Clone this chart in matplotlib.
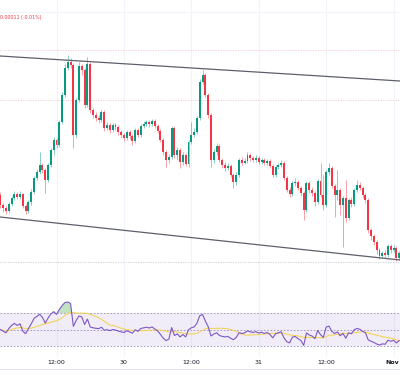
import matplotlib
matplotlib.use("Agg")
import matplotlib.pyplot as plt
import matplotlib.dates as mdates
import numpy as np
import pandas as pd

# 30-minute candles, Oct 29 02:00 -> Nov 1 01:00
start = "2024-10-29 02:00"

open_ = [
    1.08805, 1.08795, 1.08792, 1.08789, 1.08796, 1.08802, 1.08806, 1.08803, 1.08806, 1.08794,
    1.08789, 1.08798, 1.08808, 1.08822, 1.08828, 1.08835, 1.08830, 1.08820, 1.08835, 1.08850,
    1.08860, 1.08855, 1.08878, 1.08905, 1.08932, 1.08938, 1.08935, 1.08865, 1.08900, 1.08934,
    1.08930, 1.08895, 1.08936, 1.08890, 1.08885, 1.08882, 1.08880, 1.08888, 1.08872, 1.08875,
    1.08870, 1.08875, 1.08873, 1.08868, 1.08865, 1.08862, 1.08868, 1.08864, 1.08859, 1.08870,
    1.08865, 1.08874, 1.08876, 1.08878, 1.08876, 1.08879, 1.08874, 1.08869, 1.08860, 1.08848,
    1.08840, 1.08843, 1.08872, 1.08845, 1.08850, 1.08838, 1.08845, 1.08836, 1.08858, 1.08865,
    1.08868, 1.08882, 1.08918, 1.08925, 1.08905, 1.08885, 1.08840, 1.08848, 1.08854, 1.08840,
    1.08835, 1.08832, 1.08834, 1.08825, 1.08818, 1.08825, 1.08840, 1.08837, 1.08839, 1.08845,
    1.08842, 1.08840, 1.08842, 1.08838, 1.08840, 1.08837, 1.08839, 1.08834, 1.08825, 1.08833,
    1.08835, 1.08837, 1.08822, 1.08810, 1.08806, 1.08817, 1.08818, 1.08812, 1.08807, 1.08790,
    1.08817, 1.08810, 1.08807, 1.08798, 1.08819, 1.08805, 1.08795, 1.08828, 1.08832, 1.08814,
    1.08805, 1.08810, 1.08795, 1.08802, 1.08782, 1.08800, 1.08796, 1.08810, 1.08815, 1.08812,
    1.08805, 1.08800, 1.08770, 1.08764, 1.08758, 1.08750, 1.08744, 1.08747, 1.08745, 1.08754,
    1.08750, 1.08752, 1.08742,
]
close = [
    1.08795, 1.08792, 1.08789, 1.08796, 1.08802, 1.08806, 1.08803, 1.08806, 1.08794, 1.08789,
    1.08798, 1.08808, 1.08822, 1.08828, 1.08835, 1.08830, 1.08820, 1.08835, 1.08850, 1.08860,
    1.08855, 1.08878, 1.08905, 1.08932, 1.08938, 1.08935, 1.08865, 1.08900, 1.08934, 1.08930,
    1.08895, 1.08936, 1.08890, 1.08885, 1.08882, 1.08880, 1.08888, 1.08872, 1.08875, 1.08870,
    1.08875, 1.08873, 1.08868, 1.08865, 1.08862, 1.08868, 1.08864, 1.08859, 1.08870, 1.08865,
    1.08874, 1.08876, 1.08878, 1.08876, 1.08879, 1.08874, 1.08869, 1.08860, 1.08848, 1.08840,
    1.08843, 1.08872, 1.08845, 1.08850, 1.08838, 1.08845, 1.08836, 1.08858, 1.08865, 1.08868,
    1.08882, 1.08918, 1.08925, 1.08905, 1.08885, 1.08840, 1.08848, 1.08854, 1.08840, 1.08835,
    1.08832, 1.08834, 1.08825, 1.08818, 1.08825, 1.08840, 1.08837, 1.08839, 1.08845, 1.08842,
    1.08840, 1.08842, 1.08838, 1.08840, 1.08837, 1.08839, 1.08834, 1.08825, 1.08833, 1.08835,
    1.08837, 1.08822, 1.08810, 1.08806, 1.08817, 1.08818, 1.08812, 1.08807, 1.08790, 1.08817,
    1.08810, 1.08807, 1.08798, 1.08819, 1.08805, 1.08795, 1.08828, 1.08832, 1.08814, 1.08805,
    1.08810, 1.08795, 1.08802, 1.08782, 1.08800, 1.08796, 1.08810, 1.08815, 1.08812, 1.08805,
    1.08800, 1.08770, 1.08764, 1.08758, 1.08750, 1.08744, 1.08747, 1.08745, 1.08754, 1.08750,
    1.08752, 1.08742, 1.08747,
]
high = [
    1.08808, 1.08797, 1.08794, 1.08798, 1.08804, 1.08809, 1.08808, 1.08809, 1.08807, 1.08796,
    1.08800, 1.08811, 1.08824, 1.08831, 1.08848, 1.08837, 1.08832, 1.08837, 1.08852, 1.08863,
    1.08862, 1.08880, 1.08908, 1.08936, 1.08945, 1.08942, 1.08937, 1.08902, 1.08938, 1.08936,
    1.08932, 1.08943, 1.08938, 1.08892, 1.08888, 1.08885, 1.08890, 1.08890, 1.08878, 1.08877,
    1.08877, 1.08877, 1.08875, 1.08870, 1.08867, 1.08870, 1.08870, 1.08866, 1.08872, 1.08872,
    1.08876, 1.08879, 1.08880, 1.08880, 1.08881, 1.08881, 1.08876, 1.08871, 1.08862, 1.08850,
    1.08846, 1.08874, 1.08874, 1.08853, 1.08852, 1.08848, 1.08847, 1.08860, 1.08878, 1.08872,
    1.08884, 1.08921, 1.08930, 1.08927, 1.08907, 1.08887, 1.08851, 1.08857, 1.08856, 1.08842,
    1.08838, 1.08837, 1.08836, 1.08827, 1.08828, 1.08842, 1.08843, 1.08842, 1.08848, 1.08847,
    1.08844, 1.08845, 1.08844, 1.08842, 1.08842, 1.08841, 1.08841, 1.08836, 1.08835, 1.08837,
    1.08840, 1.08839, 1.08824, 1.08813, 1.08819, 1.08822, 1.08820, 1.08814, 1.08809, 1.08819,
    1.08819, 1.08813, 1.08809, 1.08821, 1.08837, 1.08825, 1.08830, 1.08837, 1.08834, 1.08816,
    1.08830, 1.08812, 1.08804, 1.08820, 1.08802, 1.08803, 1.08812, 1.08820, 1.08818, 1.08814,
    1.08807, 1.08802, 1.08772, 1.08766, 1.08760, 1.08752, 1.08749, 1.08750, 1.08756, 1.08756,
    1.08755, 1.08754, 1.08749,
]
low = [
    1.08792, 1.08788, 1.08786, 1.08787, 1.08794, 1.08800, 1.08801, 1.08801, 1.08792, 1.08786,
    1.08787, 1.08795, 1.08806, 1.08820, 1.08826, 1.08827, 1.08807, 1.08818, 1.08833, 1.08845,
    1.08852, 1.08853, 1.08876, 1.08903, 1.08930, 1.08932, 1.08852, 1.08862, 1.08898, 1.08925,
    1.08892, 1.08893, 1.08887, 1.08882, 1.08879, 1.08877, 1.08878, 1.08869, 1.08870, 1.08867,
    1.08868, 1.08870, 1.08865, 1.08862, 1.08859, 1.08860, 1.08861, 1.08855, 1.08857, 1.08863,
    1.08863, 1.08872, 1.08874, 1.08873, 1.08874, 1.08872, 1.08867, 1.08858, 1.08845, 1.08833,
    1.08837, 1.08841, 1.08842, 1.08840, 1.08832, 1.08835, 1.08834, 1.08833, 1.08856, 1.08863,
    1.08866, 1.08880, 1.08916, 1.08903, 1.08882, 1.08833, 1.08837, 1.08845, 1.08838, 1.08832,
    1.08829, 1.08830, 1.08823, 1.08812, 1.08815, 1.08823, 1.08835, 1.08836, 1.08837, 1.08839,
    1.08838, 1.08838, 1.08836, 1.08836, 1.08835, 1.08835, 1.08832, 1.08823, 1.08823, 1.08831,
    1.08833, 1.08820, 1.08808, 1.08803, 1.08804, 1.08814, 1.08810, 1.08804, 1.08780, 1.08788,
    1.08807, 1.08804, 1.08794, 1.08796, 1.08803, 1.08790, 1.08793, 1.08825, 1.08812, 1.08783,
    1.08800, 1.08785, 1.08753, 1.08778, 1.08780, 1.08793, 1.08794, 1.08808, 1.08810, 1.08802,
    1.08797, 1.08767, 1.08760, 1.08755, 1.08746, 1.08741, 1.08742, 1.08742, 1.08743, 1.08747,
    1.08748, 1.08739, 1.08740,
]

# channel drawn on the chart (left edge -> right edge)
upper_channel = [1.08944, 1.08919]
lower_channel = [1.08783, 1.08740]
# horizontal levels visible on the chart
level_solid = 1.08988
levels_pink = [1.08950, 1.08900]
level_grey = 1.08738

change_text = "0.00011 (-0.01%)"
tick_times = ["2024-10-29 12:00", "2024-10-30 00:00", "2024-10-30 12:00",
              "2024-10-31 00:00", "2024-10-31 12:00", "2024-11-01 00:00"]
tick_labels = ["12:00", "30", "12:00", "31", "12:00", "Nov"]

rsi_len = 14
ma_len = 14
rsi_seed = 0.00003  # avg gain/loss carried in from earlier bars

GREEN = "#089981"
RED = "#F23645"
GRID = "#f0f3fa"

times = pd.date_range(start, periods=len(close), freq="30min")
x = mdates.date2num(times)
o = np.array(open_)
c = np.array(close)
h = np.array(high)
l = np.array(low)
up = c >= o
colors = np.where(up, GREEN, RED)

# RSI (Wilder) and its SMA
d = np.diff(c, prepend=c[0])
ag, al = rsi_seed, rsi_seed
rsi = []
for v in d:
    ag = (ag * (rsi_len - 1) + max(v, 0)) / rsi_len
    al = (al * (rsi_len - 1) + max(-v, 0)) / rsi_len
    rsi.append(100 - 100 / (1 + ag / al))
rsi = np.array(rsi)
rsi_ma = pd.Series(rsi).rolling(ma_len, min_periods=1).mean().values

x_left = mdates.date2num(pd.Timestamp("2024-10-29 00:00") + pd.Timedelta(hours=1.94))
x_right = mdates.date2num(pd.Timestamp("2024-10-29 00:00") + pd.Timedelta(hours=73.15))
tick_x = mdates.date2num(pd.to_datetime(tick_times))

W, H = 400, 385
fig = plt.figure(figsize=(W / 100, H / 100), dpi=100)
ax = fig.add_axes([0, 1 - 292 / H, 1, 292 / H])
ax_rsi = fig.add_axes([0, 1 - 356 / H, 1, 64 / H], sharex=ax)

# main pane
for t in tick_x:
    ax.axvline(t, color=GRID, lw=0.8, zorder=0)
ax.axhline(level_solid, color=GRID, lw=0.8, zorder=0)
for lv in levels_pink:
    ax.axhline(lv, color="#f7c5c9", lw=0.6, ls=(0, (1.5, 1.5)), zorder=0)
ax.axhline(level_grey, color="#c8cad0", lw=0.6, ls=(0, (1.5, 1.5)), zorder=0)

bw = 0.7 / 48
ax.vlines(x, l, h, colors=colors, lw=0.6, alpha=0.55, zorder=2)
ax.bar(x, c - o, bottom=o, width=bw, color=colors, lw=0, zorder=3)

ax.plot([x_left, x_right], upper_channel, color="#5d606b", lw=0.9, zorder=4)
ax.plot([x_left, x_right], lower_channel, color="#5d606b", lw=0.9, zorder=4)

ax.set_xlim(x_left, x_right)
ax.set_ylim(1.08708, 1.09000)
ax.set_xticks([])
ax.set_yticks([])
for s in ["top", "left", "right"]:
    ax.spines[s].set_visible(False)
ax.spines["bottom"].set_color("#e0e3eb")
ax.spines["bottom"].set_linewidth(0.8)

fig.text(0.0, 1 - 18 / H, change_text, color=RED, fontsize=3.4, va="center", ha="left")

# RSI pane
for t in tick_x:
    ax_rsi.axvline(t, color=GRID, lw=0.8, zorder=0)
ax_rsi.axhspan(30, 70, color="#7E57C2", alpha=0.1, lw=0, zorder=0)
for lv in [70, 50, 30]:
    ax_rsi.axhline(lv, color="#9b8fc0", lw=0.6, ls=(0, (2, 2)), zorder=1)
ax_rsi.fill_between(x, rsi, 70, where=rsi > 70, color="#4caf50", alpha=0.35, lw=0,
                    interpolate=True, zorder=1)
ax_rsi.plot(x, rsi_ma, color="#f2d35b", lw=0.8, zorder=2)
ax_rsi.plot(x, rsi, color="#7E57C2", lw=0.8, zorder=3)
ax_rsi.set_ylim(17.9, 95.5)
ax_rsi.set_yticks([])
ax_rsi.set_xticks(tick_x[:-1])
ax_rsi.set_xticklabels(tick_labels[:-1], fontsize=4.5, color="#131722")
ax_rsi.tick_params(axis="x", length=0, pad=3)
for s in ax_rsi.spines.values():
    s.set_visible(False)
ax_rsi.set_xlim(x_left, x_right)

# last time label sits at the right edge, keep it inside the frame
fig.text(399 / W, 1 - 363 / H, tick_labels[-1], fontsize=4.5, color="#131722",
         fontweight="bold", ha="right", va="center")

# bottom border of the time scale
fig.add_artist(plt.Line2D([0, 1], [1 - 369 / H, 1 - 369 / H], color="#e0e3eb", lw=0.8))

fig.savefig("out.png", dpi=100, facecolor="white")
